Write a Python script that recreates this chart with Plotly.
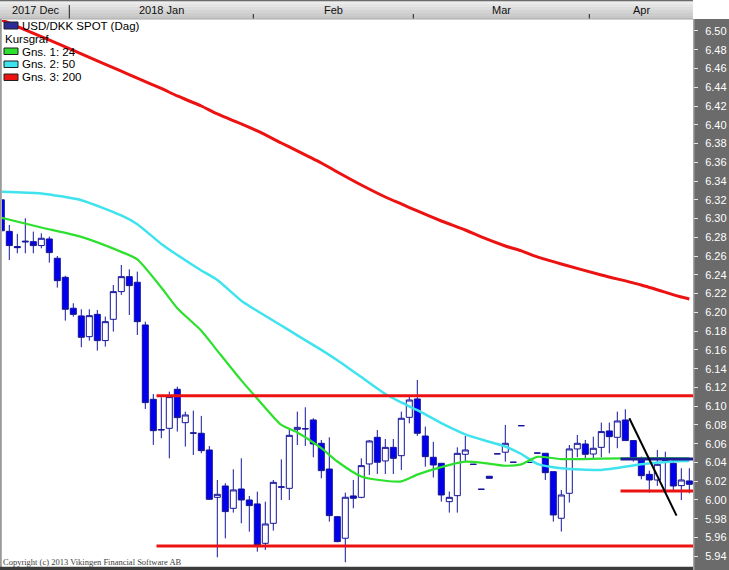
import plotly.graph_objects as go

# ---------------- data ----------------
dates = [
    "2017-12-19", "2017-12-20", "2017-12-21", "2017-12-22", "2017-12-25", "2017-12-26", "2017-12-27", "2017-12-28", "2017-12-29",
    "2018-01-01", "2018-01-02", "2018-01-03", "2018-01-04", "2018-01-05", "2018-01-08", "2018-01-09", "2018-01-10", "2018-01-11",
    "2018-01-12", "2018-01-15", "2018-01-16", "2018-01-17", "2018-01-18", "2018-01-19", "2018-01-22", "2018-01-23", "2018-01-24",
    "2018-01-25", "2018-01-26", "2018-01-29", "2018-01-30", "2018-01-31",
    "2018-02-01", "2018-02-02", "2018-02-05", "2018-02-06", "2018-02-07", "2018-02-08", "2018-02-09", "2018-02-12", "2018-02-13",
    "2018-02-14", "2018-02-15", "2018-02-16", "2018-02-19", "2018-02-20", "2018-02-21", "2018-02-22", "2018-02-23", "2018-02-26",
    "2018-02-27", "2018-02-28",
    "2018-03-01", "2018-03-02", "2018-03-05", "2018-03-06", "2018-03-07", "2018-03-08", "2018-03-09", "2018-03-12", "2018-03-13",
    "2018-03-14", "2018-03-15", "2018-03-16", "2018-03-19", "2018-03-20", "2018-03-21", "2018-03-22", "2018-03-23", "2018-03-26",
    "2018-03-27", "2018-03-28", "2018-03-29", "2018-03-30",
    "2018-04-02", "2018-04-03", "2018-04-04", "2018-04-05", "2018-04-06", "2018-04-09", "2018-04-10", "2018-04-11", "2018-04-12",
    "2018-04-13", "2018-04-16", "2018-04-17", "2018-04-18",
]

open_ = [
    6.3200, 6.2864, 6.2702, 6.2750, 6.2754, 6.2712, 6.2783, 6.2577, 6.2374,
    6.2044, 6.1962, 6.1741, 6.1979, 6.1699, 6.1926, 6.2221, 6.2381, 6.2321,
    6.1866, 6.1073, 6.0746, 6.0764, 6.1180, 6.0824, 6.0711, 6.0711, 6.0533,
    6.0028, 6.0149, 5.9911, 6.0117, 6.0000,
    5.9958, 5.9538, 5.9751, 6.0135, 6.0124, 6.0753, 6.0757, 6.0853, 6.0604,
    6.0330, 5.9822, 5.9592, 6.0043, 6.0028, 6.0384, 6.0668, 6.0416, 6.0561,
    6.0472, 6.0881,
    6.1077, 6.0682, 6.0455, 6.0391, 5.9982, 6.0046, 6.0487, 6.0380, 6.0114,
    6.0253, 6.0492, 6.0509, 6.0402, 6.0792, 6.0400, 6.0500, 6.0498, 6.0302,
    5.9805, 6.0071, 6.0544, 6.0597,
    6.0490, 6.0561, 6.0736, 6.0668, 6.0853, 6.0633, 6.0427, 6.0273, 6.0213,
    6.0430, 6.0391, 6.0153, 6.0203,
]
high = [
    6.3240, 6.2932, 6.2836, 6.3003, 6.2861, 6.2843, 6.2808, 6.2601, 6.2390,
    6.2097, 6.2033, 6.2033, 6.2026, 6.1955, 6.2292, 6.2505, 6.2459, 6.2434,
    6.1901, 6.1130, 6.1095, 6.1155, 6.1208, 6.0942, 6.0952, 6.0896, 6.0576,
    6.0213, 6.0178, 6.0327, 6.0444, 6.0043,
    6.0089, 5.9982, 6.0213, 6.0433, 6.0764, 6.0942, 6.0988, 6.0871, 6.0640,
    6.0668, 5.9830, 6.0078, 6.0213, 6.0444, 6.0640, 6.0746, 6.0650, 6.0650,
    6.0942, 6.1109,
    6.1279, 6.0782, 6.0620, 6.0391, 6.0089, 6.0561, 6.0682, 6.0380, 6.0114,
    6.0253, 6.0492, 6.0800, 6.0402, 6.0792, 6.0400, 6.0500, 6.0500, 6.0302,
    6.0107, 6.0586, 6.0693, 6.0640,
    6.0675, 6.0825, 6.0825, 6.0942, 6.0967, 6.0633, 6.0462, 6.0313, 6.0533,
    6.0515, 6.0426, 6.0338, 6.0338,
]
low = [
    6.2850, 6.2559, 6.2630, 6.2630, 6.2630, 6.2683, 6.2530, 6.2264, 6.1912,
    6.1955, 6.1628, 6.1699, 6.1592, 6.1635, 6.1795, 6.2186, 6.1972, 6.1759,
    6.0970, 6.0587, 6.0658, 6.0444, 6.0729, 6.0569, 6.0480, 6.0498, 6.0000,
    5.9389, 5.9591, 5.9865, 5.9751, 5.9662,
    5.9449, 5.9467, 5.9673, 6.0000, 6.0000, 6.0586, 6.0576, 6.0455, 6.0231,
    5.9769, 5.9550, 5.9336, 5.9911, 6.0018, 6.0267, 6.0277, 6.0277, 6.0277,
    6.0320, 6.0817,
    6.0683, 6.0355, 6.0240, 5.9982, 5.9865, 5.9865, 6.0409, 6.0380, 6.0114,
    6.0231, 6.0492, 6.0409, 6.0402, 6.0792, 6.0400, 6.0500, 6.0213, 5.9769,
    5.9663, 5.9972, 6.0455, 6.0427,
    6.0444, 6.0455, 6.0498, 6.0551, 6.0633, 6.0409, 6.0220, 6.0078, 6.0150,
    6.0107, 6.0107, 5.9999, 6.0071,
]
close = [
    6.2870, 6.2712, 6.2690, 6.2758, 6.2712, 6.2790, 6.2637, 6.2338, 6.2033,
    6.1979, 6.1734, 6.1965, 6.1699, 6.1901, 6.2221, 6.2381, 6.2285, 6.1901,
    6.1038, 6.0739, 6.0750, 6.1102, 6.0878, 6.0906, 6.0715, 6.0526, 6.0007,
    6.0060, 5.9876, 6.0107, 6.0000, 5.9940,
    5.9520, 5.9744, 6.0188, 6.0140, 6.0689, 6.0774, 6.0760, 6.0597, 6.0313,
    5.9833, 5.9556, 6.0029, 6.0018, 6.0366, 6.0629, 6.0402, 6.0561, 6.0444,
    6.0871, 6.1066,
    6.0711, 6.0462, 6.0373, 6.0053, 6.0028, 6.0497, 6.0533, 6.0380, 6.0114,
    6.0231, 6.0492, 6.0604, 6.0402, 6.0792, 6.0400, 6.0500, 6.0291, 5.9840,
    6.0053, 6.0544, 6.0604, 6.0487,
    6.0551, 6.0729, 6.0675, 6.0842, 6.0633, 6.0434, 6.0259, 6.0213, 6.0380,
    6.0422, 6.0149, 6.0213, 6.0167,
]

# moving averages at sample dates
ma_dates = [
    "2017-12-19", "2017-12-26", "2018-01-02", "2018-01-09", "2018-01-11", "2018-01-16", "2018-01-18", "2018-01-23",
    "2018-01-25", "2018-01-30", "2018-02-01", "2018-02-06", "2018-02-08", "2018-02-13", "2018-02-15", "2018-02-20",
    "2018-02-23", "2018-02-27", "2018-03-01", "2018-03-06", "2018-03-09", "2018-03-13", "2018-03-16", "2018-03-20",
    "2018-03-22", "2018-03-27", "2018-04-03", "2018-04-10", "2018-04-17", "2018-04-18",
]
ma24 = [
    6.3010, 6.2905, 6.2805, 6.2645, 6.2565, 6.2265, 6.2045, 6.1805,
    6.1592, 6.1275, 6.1080, 6.0800, 6.0720, 6.0552, 6.0410, 6.0250,
    6.0205, 6.0198, 6.0270, 6.0350, 6.0408, 6.0398, 6.0365, 6.0380,
    6.0460, 6.0436, 6.0440, 6.0445, 6.0445, 6.0445,
]
ma50 = [
    6.3287, 6.3268, 6.3196, 6.3033, 6.2940, 6.2730, 6.2612, 6.2447,
    6.2345, 6.2125, 6.2015, 6.1860, 6.1755, 6.1600, 6.1490, 6.1310,
    6.1130, 6.1040, 6.0957, 6.0820, 6.0700, 6.0645, 6.0570, 6.0490,
    6.0385, 6.0338, 6.0320, 6.0380, 6.0415, 6.0415,
]
ma200 = [
    6.5120, 6.4940, 6.4756, 6.4571, 6.4497, 6.4387, 6.4307, 6.4200,
    6.4115, 6.4009, 6.3934, 6.3806, 6.3721, 6.3593, 6.3497, 6.3358,
    6.3230, 6.3156, 6.3081, 6.2974, 6.2878, 6.2804, 6.2708, 6.2655,
    6.2591, 6.2516, 6.2399, 6.2292, 6.2164, 6.2143,
]

# user-drawn objects
range_top, range_bottom = 6.111, 5.951
range_start = "2018-01-15 09:36"
short_red, short_blue = 6.0096, 6.0437
short_start = "2018-04-05 09:36"
trend_x = ["2018-04-06 12:00", "2018-04-16 09:36"]
trend_y = [6.0871, 5.9833]

x_range = ["2017-12-19 02:06", "2018-04-18 11:03"]
y_range = [5.9296, 6.5117]

month_labels = ["2017 Dec", "2018 Jan", "Feb", "Mar", "Apr"]
month_label_x = ["2017-12-25 07:00", "2018-01-16 00:00", "2018-02-14 12:00", "2018-03-15 12:00", "2018-04-10 00:00"]
month_breaks = ["2017-12-29 12:00", "2018-01-31 12:00", "2018-02-28 12:00", "2018-03-30 12:00"]

legend_items = ["Gns. 1: 24", "Gns. 2: 50", "Gns. 3: 200"]

# ---------------- layout helpers ----------------
W, H = 729, 570
ML, MR, MT, MB = 2, 36, 20, 4
PW, PH = W - ML - MR, H - MT - MB


def fx(px):
    return (px - ML) / PW


def fy(py):
    return (H - MB - py) / PH


C_GREEN = "#2ee02e"
C_CYAN = "#3fe3ee"
C_RED = "#ec1212"
C_NAVY = "#14149c"
C_BLUE = "#0000ee"
FONT = "Liberation Sans, Arial, sans-serif"

fig = go.Figure()
fig.add_trace(go.Candlestick(
    x=dates, open=open_, high=high, low=low, close=close,
    increasing=dict(line=dict(color=C_NAVY, width=1), fillcolor="#ffffff"),
    decreasing=dict(line=dict(color=C_NAVY, width=1), fillcolor=C_BLUE),
    whiskerwidth=0, showlegend=False, name="USD/DKK",
))
fig.add_trace(go.Scatter(x=ma_dates, y=ma200, mode="lines", line=dict(color=C_RED, width=3, shape="spline", smoothing=0.6),
                         showlegend=False, hoverinfo="skip"))
fig.add_trace(go.Scatter(x=ma_dates, y=ma50, mode="lines", line=dict(color=C_CYAN, width=2.5, shape="spline", smoothing=0.6),
                         showlegend=False, hoverinfo="skip"))
fig.add_trace(go.Scatter(x=ma_dates, y=ma24, mode="lines", line=dict(color=C_GREEN, width=2.2, shape="spline", smoothing=0.6),
                         showlegend=False, hoverinfo="skip"))

shapes = []
# horizontal support / resistance lines
for lvl, col in [(range_top, C_RED), (range_bottom, C_RED)]:
    shapes.append(dict(type="line", xref="x", yref="y", x0=range_start, x1=x_range[1], y0=lvl, y1=lvl,
                       line=dict(color=col, width=3)))
shapes.append(dict(type="line", xref="x", yref="y", x0=short_start, x1=x_range[1], y0=short_red, y1=short_red,
                   line=dict(color=C_RED, width=3)))
shapes.append(dict(type="line", xref="x", yref="y", x0=short_start, x1=x_range[1], y0=short_blue, y1=short_blue,
                   line=dict(color="#1c1c96", width=3)))
shapes.append(dict(type="line", xref="x", yref="y", x0=trend_x[0], x1=trend_x[1], y0=trend_y[0], y1=trend_y[1],
                   line=dict(color="#000000", width=2)))

# header bar gradient
grad = ["#ececec", "#e4e4e4", "#dcdcdc", "#d4d4d4", "#cdcdcd", "#c6c6c6"]
band = 18 / len(grad)
for i, c in enumerate(grad):
    shapes.append(dict(type="rect", xref="paper", yref="paper", x0=fx(0), x1=fx(693),
                       y0=fy(1 + band * (i + 1)), y1=fy(1 + band * i), fillcolor=c, line=dict(width=0), layer="above"))
shapes.append(dict(type="rect", xref="paper", yref="paper", x0=fx(0), x1=fx(693), y0=fy(1.2), y1=fy(0),
                   fillcolor="#6a6a6a", line=dict(width=0)))
shapes.append(dict(type="rect", xref="paper", yref="paper", x0=fx(0), x1=fx(693), y0=fy(19.5), y1=fy(18.6),
                   fillcolor="#a8a8a8", line=dict(width=0)))
# month separators in header
for i, b in enumerate(month_breaks):
    top = 5 if i == 0 else 14
    shapes.append(dict(type="line", xref="x", yref="paper", x0=b, x1=b, y0=fy(18.5), y1=fy(top),
                       line=dict(color="#202020", width=1)))

# right axis panel
shapes.append(dict(type="rect", xref="paper", yref="paper", x0=fx(693), x1=fx(729), y0=fy(570), y1=fy(19),
                   fillcolor="#6b6b6b", line=dict(width=0), layer="below"))
shapes.append(dict(type="rect", xref="paper", yref="paper", x0=fx(693), x1=fx(694.5), y0=fy(570), y1=fy(19),
                   fillcolor="#a4a4a4", line=dict(width=0), layer="below"))
# left & bottom frame
shapes.append(dict(type="rect", xref="paper", yref="paper", x0=fx(0), x1=fx(1.8), y0=fy(570), y1=fy(19),
                   fillcolor="#9a9a9a", line=dict(width=0)))
shapes.append(dict(type="rect", xref="paper", yref="paper", x0=fx(0), x1=fx(693), y0=fy(570), y1=fy(566.8),
                   fillcolor="#3c3c3c", line=dict(width=0)))

# legend icons
icons = [(22, 29, "#2c2c98"), (48, 54.5, C_GREEN), (61, 67.5, C_CYAN), (74, 80.5, C_RED)]
for y0, y1, col in icons:
    shapes.append(dict(type="rect", xref="paper", yref="paper", x0=fx(4), x1=fx(18), y0=fy(y1), y1=fy(y0),
                       fillcolor=col, line=dict(color="#202020", width=1)))

annotations = []
for lab, xv in zip(month_labels, month_label_x):
    annotations.append(dict(text=lab, xref="x", yref="paper", x=xv, y=fy(9.5), showarrow=False,
                            xanchor="center", yanchor="middle", font=dict(family=FONT, size=11, color="#101010")))
annotations.append(dict(text="USD/DKK SPOT (Dag)", xref="paper", yref="paper", x=fx(20), y=fy(26), showarrow=False,
                        xanchor="left", yanchor="middle", font=dict(family=FONT, size=11.5, color="#000000")))
annotations.append(dict(text="Kursgraf", xref="paper", yref="paper", x=fx(3), y=fy(39.5), showarrow=False,
                        xanchor="left", yanchor="middle", font=dict(family=FONT, size=11.5, color="#000000")))
for lab, yc in zip(legend_items, [51.5, 64.3, 77.3]):
    annotations.append(dict(text=lab, xref="paper", yref="paper", x=fx(19.5), y=fy(yc), showarrow=False,
                            xanchor="left", yanchor="middle", font=dict(family=FONT, size=11.5, color="#000000")))
annotations.append(dict(text="Copyright (c) 2013 Vikingen Financial Software AB", xref="paper", yref="paper",
                        x=fx(1), y=fy(561.5), showarrow=False, xanchor="left", yanchor="middle",
                        font=dict(family="Liberation Serif, Times New Roman, serif", size=8.5, color="#404040")))

fig.update_layout(
    width=W, height=H, margin=dict(l=ML, r=MR, t=MT, b=MB, autoexpand=False),
    paper_bgcolor="#ffffff", plot_bgcolor="#ffffff", showlegend=False,
    boxgap=0.25, boxgroupgap=0,
    shapes=shapes, annotations=annotations,
    xaxis=dict(type="date", range=x_range, rangebreaks=[dict(bounds=["sat", "mon"])],
               showticklabels=False, showgrid=False, zeroline=False, ticks="", showline=False,
               rangeslider=dict(visible=False), automargin=False),
    yaxis=dict(side="right", range=y_range, tick0=5.94, dtick=0.02, tickformat=".2f",
               ticks="outside", ticklen=4, tickcolor="#e6e6e6", tickwidth=1,
               tickfont=dict(family=FONT, size=11, color="#ffffff"), automargin=False,
               showgrid=False, zeroline=False, showline=False, ticklabelstandoff=5),
)

fig.write_html("out.html", config={"displayModeBar": False},
               post_script="document.body.style.margin='0px';document.body.style.overflow='hidden';")
